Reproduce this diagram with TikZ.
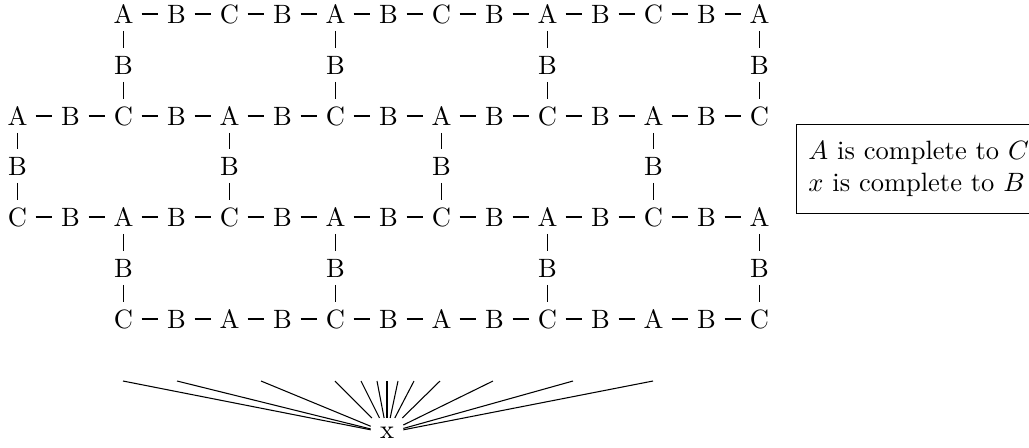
\documentclass[tikz,border=0pt]{standalone}
\begin{document}
\begin{tikzpicture}[x=0.3774pt,y=-0.3774pt,
  lt/.style={inner sep=0pt},
  hl/.style={line width=0.4pt, shorten <=6.8pt, shorten >=6.8pt},
  vl/.style={line width=0.4pt, shorten <=6.4pt, shorten >=6.4pt},
  spoke/.style={line width=0.4pt},
  legend/.style={draw, line width=0.4pt, align=left, inner xsep=4.5pt, inner ysep=6.5pt, anchor=west}]
\useasboundingbox (0,0) rectangle (1029,447);

% main rows
\foreach \lab [count=\i from 2] in {A,B,C,B,A,B,C,B,A,B,C,B,A}
  \node[lt] (r1c\i) at ({17.5+53*\i},14) {\lab};
\foreach \lab [count=\i from 0] in {A,B,C,B,A,B,C,B,A,B,C,B,A,B,C}
  \node[lt] (r2c\i) at ({17.5+53*\i},116) {\lab};
\foreach \lab [count=\i from 0] in {C,B,A,B,C,B,A,B,C,B,A,B,C,B,A}
  \node[lt] (r3c\i) at ({17.5+53*\i},217) {\lab};
\foreach \lab [count=\i from 2] in {C,B,A,B,C,B,A,B,C,B,A,B,C}
  \node[lt] (r4c\i) at ({17.5+53*\i},319) {\lab};

% horizontal dashes
\foreach \i [evaluate=\i as \j using int(\i+1)] in {2,...,13} {
  \draw[hl] (r1c\i.center) -- (r1c\j.center);
  \draw[hl] (r4c\i.center) -- (r4c\j.center);
}
\foreach \i [evaluate=\i as \j using int(\i+1)] in {0,...,13} {
  \draw[hl] (r2c\i.center) -- (r2c\j.center);
  \draw[hl] (r3c\i.center) -- (r3c\j.center);
}

% vertical links
\foreach \i in {2,6,10,14} {
  \node[lt] (v1c\i) at ({17.5+53*\i},65) {B};
  \draw[vl] (r1c\i.center) -- (v1c\i.center);
  \draw[vl] (v1c\i.center) -- (r2c\i.center);
  \node[lt] (v3c\i) at ({17.5+53*\i},268) {B};
  \draw[vl] (r3c\i.center) -- (v3c\i.center);
  \draw[vl] (v3c\i.center) -- (r4c\i.center);
}
\foreach \i in {0,4,8,12} {
  \node[lt] (v2c\i) at ({17.5+53*\i},166) {B};
  \draw[vl] (r2c\i.center) -- (v2c\i.center);
  \draw[vl] (v2c\i.center) -- (r3c\i.center);
}

% x and its spokes
\node (x) at (387,433) {x};
\foreach \ex [count=\k] in {123,177,261,335,361,377,387,398,414,440,493,573,653} {
  \coordinate (e\k) at (\ex,381);
  \draw[spoke] (x) -- (e\k);
}

% legend
\node[legend] (key) at (796,169) {$A$ is complete to $C$\\ $x$ is complete to $B$};
\end{tikzpicture}
\end{document}
